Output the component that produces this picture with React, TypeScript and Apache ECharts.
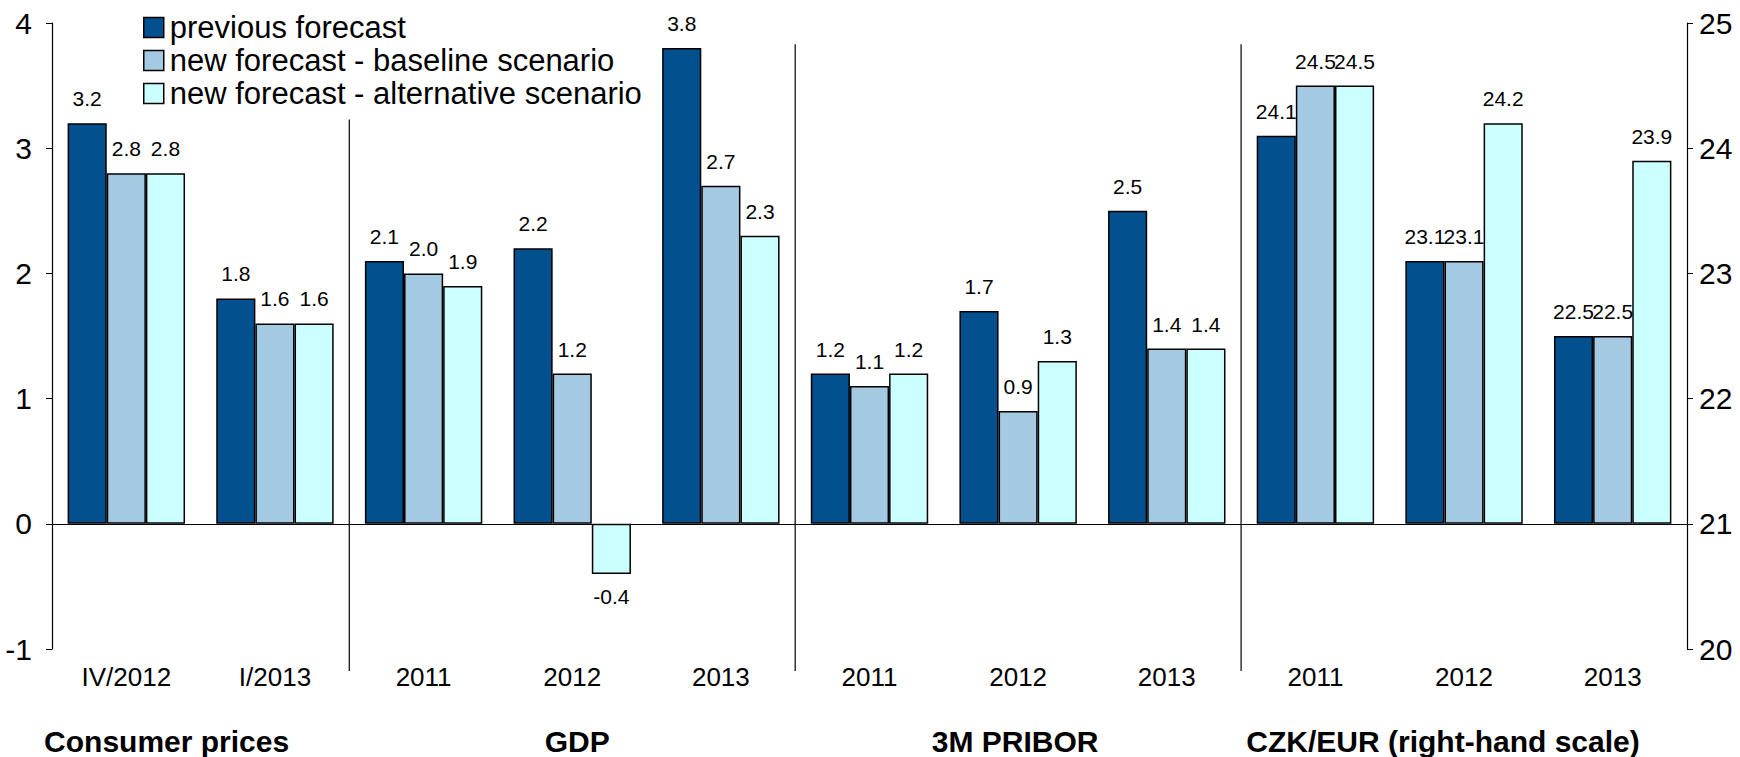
import React, { useEffect, useRef } from "react";
import * as echarts from "echarts";

// ---------------- data ----------------
const categories = ["IV/2012", "I/2013", "2011", "2012", "2013", "2011", "2012", "2013", "2011", "2012", "2013"];
const seriesNames = ["previous forecast", "new forecast - baseline scenario", "new forecast - alternative scenario"];

// left-hand scale: Consumer prices (2), GDP (3), 3M PRIBOR (3)
const previousLeft = [3.2, 1.8, 2.1, 2.2, 3.8, 1.2, 1.7, 2.5];
const baselineLeft = [2.8, 1.6, 2.0, 1.2, 2.7, 1.1, 0.9, 1.4];
const alternativeLeft = [2.8, 1.6, 1.9, -0.4, 2.3, 1.2, 1.3, 1.4];

// right-hand scale: CZK/EUR (3)
const previousCzk = [24.1, 23.1, 22.5];
const baselineCzk = [24.5, 23.1, 22.5];
const alternativeCzk = [24.5, 24.2, 23.9];

const groupNames = ["Consumer prices", "GDP", "3M PRIBOR", "CZK/EUR (right-hand scale)"];
const groupSizes = [2, 3, 3, 3];

const leftMin = -1, leftMax = 4, leftInterval = 1;
const rightMin = 20, rightMax = 25, rightInterval = 1;

// --------------- styles ---------------
const FONT = "'Liberation Sans', Arial, sans-serif";
const colors = ["#02508E", "#A4CAE3", "#CCFFFF"];
const groupLabelDx = [-34, 5, -3, -21];
const separatorTops = [3.23, 3.83, 3.83];

export default function App() {
  const ref = useRef<HTMLDivElement>(null);

  useEffect(() => {
    if (!ref.current) return;
    const chart = echarts.init(ref.current, null, { renderer: "svg" });
    const offset = rightMin - leftMin; // right axis value = left axis value + offset

    const build = (left: number[], czk: number[]) => {
      const items: any[] = [];
      left.forEach((v) => items.push({ value: v, raw: v, label: v < 0 ? { position: "bottom", distance: 12 } : undefined }));
      czk.forEach((v) => items.push({ value: v - offset, raw: v }));
      return items;
    };
    const seriesData = [
      build(previousLeft, previousCzk),
      build(baselineLeft, baselineCzk),
      build(alternativeLeft, alternativeCzk),
    ];

    const series: any[] = seriesNames.map((name, i) => ({
      name,
      type: "bar",
      xAxisIndex: 0,
      yAxisIndex: 0,
      data: seriesData[i],
      barGap: "0%",
      barCategoryGap: "21%",
      itemStyle: { color: colors[i], borderColor: "#000", borderWidth: 1.5 },
      label: {
        show: true,
        position: "top",
        distance: 14,
        color: "#000",
        fontFamily: FONT,
        fontSize: 21,
        formatter: (p: any) => Number(p.data.raw).toFixed(1),
      },
      markLine:
        i === 0
          ? {
              silent: true,
              symbol: "none",
              label: { show: false },
              lineStyle: { color: "#000", width: 1.2, type: "solid" },
              data: [{ yAxis: 0 }],
            }
          : undefined,
    }));

    chart.setOption({
      animation: false,
      backgroundColor: "#fff",
      textStyle: { fontFamily: FONT },
      grid: { left: 52, right: 53, top: 23, bottom: 108, containLabel: false },
      legend: {
        orient: "vertical",
        left: 138,
        top: 7,
        icon: "rect",
        itemWidth: 20,
        itemHeight: 20,
        itemGap: 2,
        itemStyle: { borderColor: "#000", borderWidth: 1.5 },
        textStyle: { fontSize: 31, color: "#000", fontFamily: FONT, padding: [0, 0, 0, 1] },
        data: seriesNames,
        selectedMode: false,
      },
      xAxis: [
        {
          type: "category",
          data: categories,
          position: "bottom",
          axisLine: { show: false, onZero: false },
          axisTick: { show: false },
          axisLabel: { color: "#000", fontSize: 26, fontFamily: FONT, margin: 15, interval: 0 },
          splitLine: { show: false },
        },
      ],
      yAxis: [
        {
          type: "value",
          min: leftMin,
          max: leftMax,
          interval: leftInterval,
          position: "left",
          axisLine: { show: true, lineStyle: { color: "#000", width: 1.2 } },
          axisTick: { show: true, length: 6, lineStyle: { color: "#000" } },
          axisLabel: { color: "#000", fontSize: 30, fontFamily: FONT, margin: 20 },
          splitLine: { show: false },
        },
        {
          type: "value",
          min: rightMin,
          max: rightMax,
          interval: rightInterval,
          position: "right",
          axisLine: { show: true, lineStyle: { color: "#000", width: 1.2 } },
          axisTick: { show: true, length: 6, lineStyle: { color: "#000" } },
          axisLabel: { color: "#000", fontSize: 30, fontFamily: FONT, margin: 12 },
          splitLine: { show: false },
        },
      ],
      series,
    });

    // separators and group labels, positioned via the chart's own scales
    const xc = (i: number) => chart.convertToPixel({ xAxisIndex: 0 }, i) as number;
    const yc = (v: number) => chart.convertToPixel({ yAxisIndex: 0 }, v) as number;
    const step = xc(1) - xc(0);
    const bottomY = yc(leftMin);
    const graphics: any[] = [];
    let start = 0;
    groupSizes.forEach((size, g) => {
      const leftEdge = xc(start) - step / 2;
      const rightEdge = xc(start + size - 1) + step / 2;
      if (g > 0) {
        graphics.push({
          type: "line",
          shape: { x1: leftEdge, y1: yc(separatorTops[g - 1]), x2: leftEdge, y2: bottomY + 22 },
          style: { stroke: "#000", lineWidth: 1.2 },
          silent: true,
        });
      }
      graphics.push({
        type: "text",
        x: (leftEdge + rightEdge) / 2 + groupLabelDx[g],
        y: bottomY + 92,
        style: {
          text: groupNames[g],
          fill: "#000",
          font: `bold 30px ${FONT}`,
          textAlign: "center",
          textVerticalAlign: "middle",
        },
        silent: true,
      });
      start += size;
    });
    chart.setOption({ graphic: graphics });

    return () => chart.dispose();
  }, []);

  return (
    <div
      ref={ref}
      style={{ position: "fixed", left: 0, top: 0, width: 1740, height: 757, background: "#fff" }}
    />
  );
}
